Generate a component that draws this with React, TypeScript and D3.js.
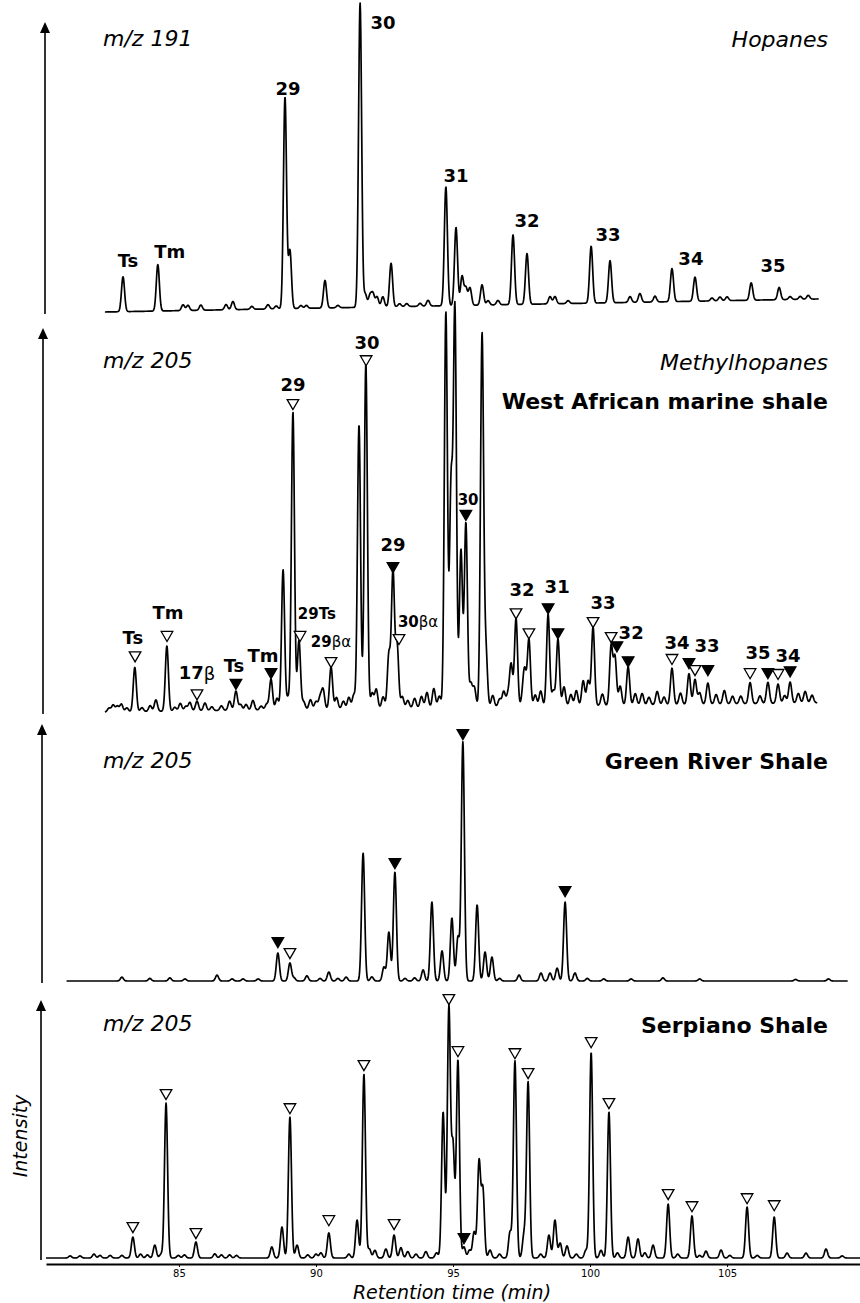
import React, { useEffect, useRef } from 'react';
import * as d3 from 'd3';

const width = 860;
const height = 1303;

// retention time window (min) covered by the x axis
const timeDomain = [80.15, 109.85];
const tickValues = [85, 90, 95, 100, 105];

// ---- m/z 191, hopanes: [retention time (min), height (% full scale)]
const hopanePeaks = [
  [82.96, 12], [84.23, 16], [85.15, 2], [85.33, 1.8], [85.8, 1.8], [86.72, 1.8],
  [86.97, 2.8], [87.66, 1], [88.25, 1.5], [88.55, 1], [88.87, 73], [89.05, 20],
  [89.45, 1], [89.65, 1], [90.33, 9.5], [90.8, 0.8], [91.61, 105], [91.8, 4.5],
  [91.97, 4], [92.08, 4.5], [92.23, 3.5], [92.44, 3.5], [92.74, 15], [93.05, 1],
  [93.31, 1], [93.8, 1], [94.09, 2], [94.74, 41], [95.11, 27], [95.33, 10],
  [95.47, 6], [95.62, 6], [96.06, 7], [96.28, 1.5], [96.64, 1.5], [97.19, 24],
  [97.7, 17.5], [98.54, 2.5], [98.72, 2.5], [99.2, 1], [100.04, 19.6], [100.73, 14.5],
  [101.46, 2], [101.82, 3], [102.37, 2], [102.99, 11.4], [103.83, 8.3], [104.45, 1],
  [104.74, 1.3], [105.0, 1.3], [105.88, 6], [106.9, 4.2], [107.3, 1], [107.67, 1],
  [107.96, 1.3],
];
const hopaneDrift = [[82.3, 0], [108.35, 4.5]];
const hopaneLabels = [
  [83.14, 17.9, 'Ts'], [84.67, 20.7, 'Tm'], [88.98, 76.9, '29'], [92.45, 99.7, '30'],
  [95.11, 47.2, '31'], [97.7, 31.7, '32'], [100.66, 26.6, '33'], [103.68, 18.6, '34'],
  [106.68, 16.2, '35'],
];

// ---- m/z 205, West African marine shale
const westAfricaPeaks = [
  [82.45, 1], [82.6, 1.8], [82.75, 1.5], [82.9, 2], [83.1, 1], [83.39, 11.5],
  [83.65, 1], [83.95, 1.5], [84.16, 3], [84.56, 17], [84.85, 1], [85.05, 2],
  [85.25, 1.2], [85.4, 2.2], [85.66, 2.5], [85.95, 2], [86.2, 1], [86.55, 1.2],
  [86.85, 2.4], [87.08, 5], [87.25, 1.5], [87.45, 1.5], [87.7, 2.5], [88.0, 1],
  [88.2, 1.5], [88.36, 8], [88.58, 3], [88.8, 36.5], [88.98, 3], [89.16, 77.5],
  [89.38, 18], [89.55, 2], [89.8, 2.5], [90.0, 2], [90.15, 3], [90.26, 5],
  [90.55, 11], [90.75, 3], [91.0, 2], [91.2, 3], [91.38, 3.6], [91.57, 74],
  [91.82, 90], [92.05, 4], [92.2, 5], [92.45, 3], [92.66, 14], [92.81, 35.5],
  [92.96, 16.5], [93.15, 3], [93.35, 2], [93.6, 2.5], [93.85, 3], [94.05, 4],
  [94.3, 5], [94.5, 3], [94.74, 103], [94.93, 57], [95.07, 103], [95.29, 41],
  [95.47, 48], [95.65, 6], [95.78, 5], [96.06, 97], [96.2, 14.5], [96.45, 3],
  [96.7, 2], [96.85, 4], [97.0, 3], [97.12, 11], [97.3, 23], [97.55, 3],
  [97.62, 8.5], [97.77, 17.5], [98.0, 3], [98.2, 4], [98.47, 24], [98.66, 4],
  [98.83, 17.5], [99.05, 5], [99.3, 3], [99.5, 4], [99.75, 6.5], [99.93, 6.5],
  [100.11, 20.5], [100.45, 3], [100.77, 15.5], [100.91, 12.5], [101.1, 5], [101.39, 10],
  [101.65, 3], [101.9, 3], [102.15, 2], [102.45, 3.5], [102.7, 2], [102.99, 9.5],
  [103.3, 3], [103.61, 8], [103.83, 6.5], [104.0, 3], [104.3, 5.5], [104.6, 2.5],
  [104.9, 3.5], [105.2, 2], [105.5, 2], [105.84, 5.5], [106.2, 2], [106.49, 5.5],
  [106.86, 5], [107.1, 2], [107.3, 5.5], [107.6, 2.5], [107.85, 3], [108.1, 2],
];
const westAfricaDrift = [[82.3, 0], [108.3, 2.4]];
const westAfricaLabels = [
  [83.32, 19.3, 'Ts'], [84.6, 25.8, 'Tm'], [85.66, 10.2, '17', 'β'], [87.01, 12.2, 'Ts'],
  [88.07, 14.8, 'Tm'], [89.16, 85.2, '29'], [91.86, 96.1, '30'], [92.81, 43.5, '29'],
  [97.52, 32.0, '32'], [98.8, 32.6, '31'], [100.47, 28.4, '33'], [101.5, 20.8, '32'],
  [103.17, 18.2, '34'], [104.27, 17.2, '33'], [106.13, 15.4, '35'], [107.22, 14.8, '34'],
];
const westAfricaSmallLabels = [
  [89.34, 25.5, '29Ts', '', 'start'], [90.55, 18.2, '29', 'βα', 'middle'],
  [92.99, 23.4, '30', 'βα', 'start'], [95.55, 55.2, '30', '', 'middle'],
];
// [time, level, kind] kind: 'o' = open triangle, 'f' = filled triangle
const westAfricaMarkers = [
  [83.4, 14.8, 'o'], [84.565, 20.1, 'o'], [85.66, 4.9, 'o'], [87.08, 7.6, 'f'],
  [88.36, 10.4, 'f'], [89.16, 80.5, 'o'], [89.42, 20.1, 'o'], [90.55, 13.3, 'o'],
  [91.83, 91.9, 'o'], [92.81, 38.0, 'f'], [93.03, 19.3, 'o'], [95.47, 51.6, 'f'],
  [97.3, 26.0, 'o'], [97.77, 20.8, 'o'], [98.47, 27.3, 'f'], [98.83, 20.8, 'f'],
  [100.11, 23.7, 'o'], [100.77, 19.8, 'o'], [100.98, 17.4, 'f'], [101.39, 13.5, 'f'],
  [102.99, 14.1, 'o'], [103.61, 13.0, 'f'], [103.83, 11.2, 'o'], [104.3, 11.2, 'f'],
  [105.84, 10.4, 'o'], [106.49, 10.4, 'f'], [106.86, 10.2, 'o'], [107.3, 10.9, 'f'],
];

// ---- m/z 205, Green River Shale
const greenRiverPeaks = [
  [82.92, 1.5], [83.94, 1], [84.67, 1.2], [85.22, 0.8], [86.39, 2.3], [86.94, 0.8],
  [87.34, 0.8], [87.89, 0.8], [88.61, 10.9], [89.05, 7], [89.2, 1.2], [89.67, 2],
  [90.15, 1], [90.47, 3.5], [90.8, 1], [91.1, 1.5], [91.72, 49.8], [92.04, 1.6],
  [92.48, 5.4], [92.66, 19], [92.88, 42.4], [93.25, 1], [93.6, 1.2], [93.91, 4.3],
  [94.23, 30.7], [94.6, 11.7], [94.96, 24.5], [95.18, 17], [95.36, 93], [95.88, 29.6],
  [96.17, 11.3], [96.42, 9.3], [96.7, 1], [97.41, 2.3], [98.21, 3.1], [98.54, 3.1],
  [98.8, 5], [99.09, 30.7], [99.45, 3.1], [99.9, 1], [100.5, 0.8], [101.5, 0.8],
  [102.66, 1.2], [104.0, 0.8], [107.5, 0.6], [108.7, 0.8],
];
const greenRiverMarkers = [
  [88.61, 15.6, 'f'], [89.05, 11.3, 'o'], [92.88, 46.3, 'f'], [95.36, 96.5, 'f'],
  [99.09, 35.4, 'f'],
];

// ---- m/z 205, Serpiano Shale
const serpianoPeaks = [
  [81.03, 0.8], [81.39, 0.8], [81.9, 1.5], [82.12, 1], [82.49, 1], [82.92, 1],
  [83.32, 8.1], [83.6, 1.5], [83.85, 1.2], [84.12, 5], [84.35, 1.5], [84.53, 60],
  [84.98, 1], [85.2, 1.2], [85.62, 6.2], [86.31, 1.6], [86.55, 1.2], [86.85, 1.2],
  [87.1, 1], [88.39, 4.3], [88.76, 12], [89.05, 54.7], [89.31, 5], [89.7, 1.2],
  [90.0, 1.5], [90.18, 2], [90.47, 9.7], [91.2, 1.5], [91.5, 14.7], [91.75, 71.3],
  [91.95, 3.5], [92.15, 3], [92.55, 3.5], [92.85, 8.9], [93.1, 4], [93.35, 2.5],
  [93.65, 1.5], [94.01, 2.5], [94.4, 2], [94.64, 56.6], [94.85, 96.9], [95.0, 43],
  [95.18, 76.7], [95.4, 4.3], [95.6, 3], [95.77, 10], [95.95, 37.2], [96.09, 26.4],
  [96.35, 3.1], [96.7, 1.5], [97.08, 10], [97.26, 76.4], [97.59, 8.9], [97.74, 68.2],
  [98.2, 1.5], [98.5, 8.9], [98.72, 14.7], [98.91, 5.8], [99.16, 4.7], [99.5, 1.5],
  [99.85, 3], [100.04, 79.8], [100.4, 3], [100.69, 56.6], [101.0, 2], [101.39, 8.1],
  [101.75, 7.4], [102.0, 2], [102.3, 5], [102.85, 20.9], [103.2, 1.5], [103.72, 16.3],
  [104.0, 1], [104.23, 2.7], [104.78, 3.1], [105.1, 1], [105.73, 19.8], [106.1, 1],
  [106.72, 15.9], [107.19, 1.9], [107.88, 1.9], [108.61, 3.5], [109.2, 0.8],
];
const serpianoMarkers = [
  [83.32, 12.4, 'o'], [84.53, 64, 'o'], [85.62, 10.1, 'o'], [89.05, 58.5, 'o'],
  [90.47, 15.1, 'o'], [91.75, 75.2, 'o'], [92.85, 13.6, 'o'], [94.85, 100.8, 'o'],
  [95.18, 80.6, 'o'], [95.4, 8.1, 'f'], [97.26, 79.8, 'o'], [97.74, 72.1, 'o'],
  [100.04, 84.1, 'o'], [100.69, 60.5, 'o'], [102.85, 25.2, 'o'], [103.72, 20.5, 'o'],
  [105.73, 23.6, 'o'], [106.72, 20.9, 'o'],
];

// layout of the four stacked traces
const panels = [
  {
    key: 'hopanes', peaks: hopanePeaks, drift: hopaneDrift, range: [82.3, 108.35],
    base: 312, unit: 2.9, arrowX: 45, mz: 'm/z 191', mzY: 46,
    right: [{ text: 'Hopanes', y: 47, italic: true }],
    labels: hopaneLabels, small: [], markers: [],
  },
  {
    key: 'westafrica', peaks: westAfricaPeaks, drift: westAfricaDrift, range: [82.3, 108.3],
    base: 712, unit: 3.84, arrowX: 43, mz: 'm/z 205', mzY: 368,
    right: [
      { text: 'Methylhopanes', y: 370, italic: true },
      { text: 'West African marine shale', y: 409, italic: false },
    ],
    labels: westAfricaLabels, small: westAfricaSmallLabels, markers: westAfricaMarkers,
  },
  {
    key: 'greenriver', peaks: greenRiverPeaks, drift: null, range: [80.9, 109.4],
    base: 981, unit: 2.57, arrowX: 42, mz: 'm/z 205', mzY: 768,
    right: [{ text: 'Green River Shale', y: 769, italic: false }],
    labels: [], small: [], markers: greenRiverMarkers,
  },
  {
    key: 'serpiano', peaks: serpianoPeaks, drift: null, range: [80.15, 109.85],
    base: 1258, unit: 2.58, arrowX: 41, mz: 'm/z 205', mzY: 1031,
    right: [{ text: 'Serpiano Shale', y: 1033, italic: false }],
    labels: [], small: [], markers: serpianoMarkers,
  },
];

const sigma = 0.056;
const step = 0.012;

const buildTrace = (peaks, drift, range) => {
  const driftScale = drift
    ? d3.scaleLinear().domain(drift.map((d) => d[0])).range(drift.map((d) => d[1]))
    : () => 0;
  const pts = [];
  for (let t = range[0]; t <= range[1] + 1e-9; t += step) {
    let v = driftScale(t);
    peaks.forEach(([tp, h]) => {
      const z = (t - tp) / sigma;
      if (Math.abs(z) < 6) v += h * Math.exp(-0.5 * z * z);
    });
    pts.push([t, v]);
  }
  return pts;
};

const font = "'DejaVu Sans', Verdana, sans-serif";

export default function App() {
  const axisRef = useRef(null);

  const x = d3.scaleLinear().domain(timeDomain).range([46, 860]);
  const tri = d3.symbol().type(d3.symbolTriangle).size(58)();

  useEffect(() => {
    const g = d3.select(axisRef.current);
    g.selectAll('*').remove();
    g.call(d3.axisBottom(x).tickValues(tickValues).tickSize(3).tickSizeOuter(0).tickPadding(3));
    g.select('.domain').attr('stroke', '#000').attr('stroke-width', 2);
    g.selectAll('.tick line').attr('stroke', '#000').attr('stroke-width', 1);
    g.selectAll('.tick text')
      .attr('fill', '#000')
      .style('font-family', font)
      .style('font-size', '10px');
  }, []);

  return (
    <svg
      width={width}
      height={height}
      style={{ position: 'absolute', left: 0, top: 0, background: '#fff' }}
      fontFamily={font}
    >
      <rect width={width} height={height} fill="#fff" />
      {panels.map((p) => {
        const y = d3.scaleLinear().domain([0, 100]).range([p.base, p.base - 100 * p.unit]);
        const line = d3
          .line()
          .x((d) => x(d[0]))
          .y((d) => y(d[1]));
        const trace = buildTrace(p.peaks, p.drift, p.range);
        const top = y(100);
        return (
          <g key={p.key}>
            {/* intensity arrow */}
            <line x1={p.arrowX} x2={p.arrowX} y1={p.base + 2} y2={top + 8} stroke="#000" strokeWidth={1.6} />
            <path
              d={`M${p.arrowX},${top} L${p.arrowX - 5},${top + 11} L${p.arrowX + 5},${top + 11} Z`}
              fill="#000"
            />
            <path d={line(trace)} fill="none" stroke="#000" strokeWidth={1.7} strokeLinejoin="round" />
            <text x={103} y={p.mzY} fontSize={22} fontStyle="italic">
              {p.mz}
            </text>
            {p.right.map((r) => (
              <text
                key={r.text}
                x={828}
                y={r.y}
                textAnchor="end"
                fontSize={22}
                fontStyle={r.italic ? 'italic' : 'normal'}
                fontWeight={r.italic ? 'normal' : 'bold'}
              >
                {r.text}
              </text>
            ))}
            {p.labels.map(([t, v, txt, greek], i) => (
              <text
                key={'l' + i}
                x={x(t)}
                y={y(v)}
                textAnchor="middle"
                dominantBaseline="central"
                fontSize={18}
                fontWeight="bold"
              >
                {txt}
                {greek ? <tspan fontWeight="normal">{greek}</tspan> : null}
              </text>
            ))}
            {p.small.map(([t, v, txt, greek, anchor], i) => (
              <text
                key={'s' + i}
                x={x(t)}
                y={y(v)}
                textAnchor={anchor}
                dominantBaseline="central"
                fontSize={15}
                fontWeight="bold"
              >
                {txt}
                {greek ? <tspan fontWeight="normal">{greek}</tspan> : null}
              </text>
            ))}
            {p.markers.map(([t, v, kind], i) => (
              <path
                key={'m' + i}
                d={tri}
                transform={`translate(${x(t)},${y(v)}) rotate(180)`}
                fill={kind === 'f' ? '#000' : '#fff'}
                stroke="#000"
                strokeWidth={1.3}
              />
            ))}
          </g>
        );
      })}
      <g ref={axisRef} transform="translate(0,1264)" />
      <text x={452} y={1299} textAnchor="middle" fontSize={19} fontStyle="italic">
        Retention time (min)
      </text>
      <text
        transform="translate(20,1136) rotate(-90)"
        textAnchor="middle"
        dominantBaseline="central"
        fontSize={19}
        fontStyle="italic"
      >
        Intensity
      </text>
    </svg>
  );
}
